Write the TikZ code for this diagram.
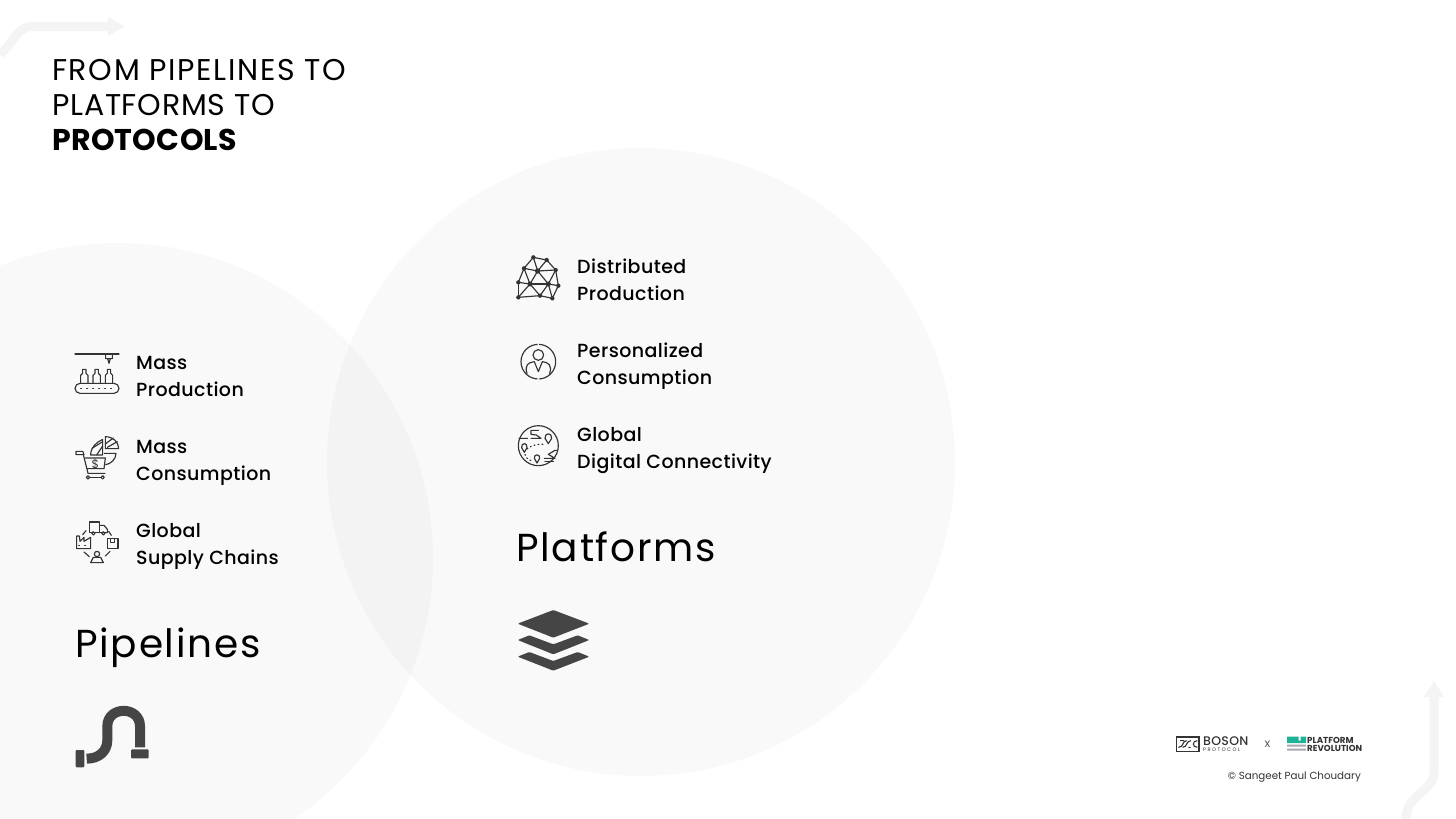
\documentclass[tikz,border=0pt]{standalone}
\usepackage{fontspec}
\setmainfont{Poppins}
\newfontfamily\medfont[LetterSpace=2.2]{Poppins Medium}
\definecolor{ink}{HTML}{333333}
\definecolor{darkfill}{HTML}{454545}
\definecolor{ghost}{HTML}{F4F4F4}
\definecolor{teal1}{HTML}{1DB394}
\definecolor{grey1}{HTML}{A9A9B2}
\newcommand{\ttlfont}[1]{\fontsize{30}{35}\selectfont\addfontfeatures{LetterSpace=#1}}
\tikzset{
  venn/.style={fill=black,fill opacity=0.024,draw=none},
  lbl/.style={anchor=west,align=left,inner sep=0pt,font=\fontsize{19}{26.8}\selectfont\medfont},
  head/.style={anchor=base west,inner sep=0pt,font=\fontsize{39}{44}\selectfont\addfontfeatures{LetterSpace=4.5}},
  ttl/.style={anchor=base west,inner sep=0pt},
  ico/.style={draw=ink,line width=1.15pt,line cap=round,line join=round},
  ghostline/.style={draw=ghost,line width=9pt},
}
\begin{document}
\begin{tikzpicture}[x=1pt,y=-1pt]
\useasboundingbox (0,0) rectangle (1456,819);
\clip (0,0) rectangle (1456,819);
\fill[white] (0,0) rectangle (1456,819);
% circles
\fill[venn] (118,558) circle (315);
\fill[venn] (641,462) circle (314);
% ghost arrows
\draw[ghostline] (0,54) .. controls (12,46) and (16,26.5) .. (32,26.5) -- (109,26.5);
\fill[ghost] (108,17) -- (125,26.5) -- (108,36) -- cycle;
\draw[ghostline] (1434,696) -- (1434,772) .. controls (1434,792) and (1406,794) .. (1406,819);
\fill[ghost] (1424,697) -- (1434,681) -- (1444,697) -- cycle;
% title
\node[ttl,font=\ttlfont{5.5}] (t1) at (52,80.5) {FROM PIPELINES TO};
\node[ttl,font=\ttlfont{2.5}] (t2) at (52,115.5) {PLATFORMS TO};
\node[ttl,font=\ttlfont{1}\bfseries] (t3) at (52,150.5) {PROTOCOLS};
% labels
\node[lbl] (a) at (136,377.8) {\strut Mass\\\strut Production};
\node[lbl] (b) at (136,461.8) {\strut Mass\\\strut Consumption};
\node[lbl] (c) at (136,545.8) {\strut Global\\\strut Supply Chains};
\node[lbl] (d) at (577,281.8) {\strut Distributed\\\strut Production};
\node[lbl] (e) at (577,365.8) {\strut Personalized\\\strut Consumption};
\node[lbl] (f) at (577,449.8) {\strut Global\\\strut Digital Connectivity};
\node[head] (pl) at (75,657.5) {Pipelines};
\node[head] (pf) at (516,561.5) {Platforms};
% mass production icon
\begin{scope}[shift={(60,340)},scale=1/3]
\draw[ico] (45,42) -- (177,42);
\draw[ico] (137,42) -- (137,56) -- (157,56) -- (157,42) (143,56) -- (147,70) -- (151,56);
\foreach \bx in {73,110,147}{
 \draw[ico] (\bx-11,130) -- (\bx-11,106) -- (\bx-5,100) -- (\bx-5,88) -- (\bx+5,88) -- (\bx+5,100) -- (\bx+11,106) -- (\bx+11,130);
}
\draw[ico,rounded corners=5pt] (45,130) rectangle (177,160);
\draw[ico,dash pattern=on 1pt off 5pt] (62,146) -- (162,146);
\end{scope}
% mass consumption icon
\begin{scope}[shift={(60,340)},scale=1/3]
\draw[ico] (92,345) .. controls (92,322) and (108,308) .. (128,298) -- (128,345) -- cycle;
\draw[ico] (96,325) -- (128,305) (110,345) -- (128,318);
\draw[ico] (136,290) -- (136,326) -- (176,326) .. controls (176,305) and (158,290) .. (136,290) -- cycle;
\draw[ico] (136,312) -- (160,294) (142,322) -- (172,305);
\draw[ico] (168,340) .. controls (168,358) and (152,372) .. (137,374) (133,340) -- (168,340);
\draw[ico] (48,334) -- (68,334) -- (72,344) -- (48,344) -- cycle;
\draw[ico] (70,344) -- (84,400) -- (135,400);
\draw[ico] (76,354) -- (136,354) -- (132,386) -- (82,386);
\draw[ico] (84,412) circle (5) (128,412) circle (5);
\draw[ico] (89,412) -- (123,412);
\node[font=\fontsize{12}{12}\selectfont,text=ink,inner sep=0pt] (dollar) at (106,372) {\$};
\end{scope}
% supply chain icon
\begin{scope}[shift={(60,340)},scale=1/3]
\draw[ico] (88,546) rectangle (118,578);
\draw[ico] (118,556) -- (132,556) -- (142,568) -- (142,578) -- (118,578);
\draw[ico] (100,580) circle (5) (130,580) circle (5);
\draw[ico] (50,626) -- (50,588) -- (58,588) -- (60,604) -- (72,592) -- (72,604) -- (92,592) -- (92,626) -- cycle;
\draw[ico,dash pattern=on 1pt off 5pt] (56,616) -- (88,616);
\draw[ico] (142,596) rectangle (174,626) (152,596) -- (152,608) -- (164,608) -- (164,596);
\draw[ico] (92,668) -- (130,668) -- (122,652) -- (100,652) -- cycle;
\draw[ico] (111,642) circle (8);
\draw[ico] (68,584) -- (78,572) (146,574) -- (154,586) (72,636) -- (88,650) (136,648) -- (150,634);
\end{scope}
% distributed production icon
\begin{scope}[shift={(505,245)},scale=1/3]
\foreach \n/\p in {1/{85,37},2/{125,45},3/{57,70},4/{98,78},5/{152,75},6/{40,112},7/{75,117},8/{130,117},9/{160,122},10/{40,157},11/{105,152},12/{142,160}}{
  \coordinate (n\n) at (\p);
}
\foreach \n in {1,...,12}{\fill[ink] (n\n) circle (6.5);}
\fill[ink] (n4) circle (8) (n8) circle (7.5) (n7) circle (7.5);
\foreach \a/\b in {1/2,1/3,1/4,2/4,2/5,3/4,4/5,3/6,3/7,4/7,4/8,5/8,5/9,6/7,7/8,8/9,6/10,7/10,7/11,8/11,8/12,9/12,10/11,11/12}{
  \draw[ico] (n\a) -- (n\b);
}
\end{scope}
% personalized consumption icon
\begin{scope}[shift={(505,245)},scale=1/3]
\draw[ico,line cap=butt,dash pattern=on 26.4pt off 1.6pt on 52.8pt off 1.6pt on 26.4pt] (100,350) circle (52);
\draw[ico] (100,330) circle (16);
\draw[ico] (66,385) .. controls (58,360) and (70,352) .. (88,350) -- (100,380) -- (112,350) .. controls (130,352) and (142,360) .. (134,385);
\end{scope}
% global icon
\begin{scope}[shift={(505,245)},scale=1/3]
\draw[ico] (100,602) circle (60);
\draw[ico] (42,580) -- (68,580) (78,580) -- (108,580) -- (94,570) -- (78,568) -- (78,556) -- (100,556);
\draw[ico] (130,596) -- (120,580) .. controls (118,562) and (142,562) .. (140,580) -- cycle;
\draw[ico] (58,622) -- (50,608) .. controls (48,592) and (68,592) .. (66,608) -- cycle;
\draw[ico] (96,654) -- (88,640) .. controls (86,626) and (106,626) .. (104,640) -- cycle;
\draw[ico,dash pattern=on 1pt off 3pt] (66,612) .. controls (80,600) and (100,596) .. (118,598) (60,628) .. controls (62,640) and (72,646) .. (84,648);
\draw[ico] (118,640) -- (150,640) -- (130,628) -- (150,616) -- (156,616);
\draw[ico] (120,650) -- (146,650);
\end{scope}
% pipe icon
\begin{scope}[shift={(60,600)},scale=1/3]
\fill[darkfill,rounded corners=1pt] (47,450) rectangle (73,502);
\draw[darkfill,line width=10pt] (80,476) .. controls (115,476) and (142,455) .. (142,420) -- (142,379) .. controls (142,317) and (240,317) .. (240,379) -- (240,442);
\fill[darkfill,rounded corners=1pt] (213,448) rectangle (266,475);
\end{scope}
% layers icon
\begin{scope}[shift={(505,600)},scale=1/3]
\fill[darkfill,rounded corners=1pt] (38,71) -- (145,30) -- (253,71) -- (145,113) -- cycle;
\fill[darkfill,rounded corners=1pt] (38,120) -- (73,106) -- (145,133) -- (218,106) -- (253,120) -- (145,163) -- cycle;
\fill[darkfill,rounded corners=1pt] (38,170) -- (73,156) -- (145,183) -- (218,156) -- (253,170) -- (145,212) -- cycle;
\end{scope}
% footer logos
\begin{scope}[shift={(1160,670)},scale=1/3]
\draw[ink,line width=1.1pt] (50,201) rectangle (117,245);
\draw[ink,line width=1.1pt] (55,232) .. controls (72,232) and (66,212) .. (80,212) (93,212) .. controls (78,212) and (82,232) .. (68,232) (112,212) .. controls (96,212) and (96,232) .. (112,232) (60,212) -- (72,212) (85,232) -- (92,232);
\fill[teal1] (381,200) rectangle (416,219) (422,200) rectangle (438,212) (416,212) rectangle (438,219);
\fill[grey1] (381,224) rectangle (438,230) (381,236) rectangle (438,242);
\end{scope}
\node[anchor=west,inner sep=0pt,font=\fontsize{12.5}{13}\selectfont\medfont,text=ink] (boson) at (1203,741) {BOSON};
\node[anchor=west,inner sep=0pt,font=\fontsize{5}{6}\selectfont\addfontfeatures{LetterSpace=30},text=ink] (proto) at (1203,750) {PROTOCOL};
\node[inner sep=0pt,font=\fontsize{12}{12}\selectfont,text=ink!80] (xmark) at (1267.5,744) {x};
\node[anchor=west,inner sep=0pt,font=\fontsize{8.7}{10}\selectfont\bfseries,text=ink] (pr1) at (1307,740) {PLATFORM};
\node[anchor=west,inner sep=0pt,font=\fontsize{8.7}{10}\selectfont\bfseries,text=ink] (pr2) at (1307,748) {REVOLUTION};
\node[anchor=east,inner sep=0pt,font=\fontsize{10.3}{12}\selectfont,text=ink] (copy) at (1361,777) {© Sangeet Paul Choudary};
\end{tikzpicture}
\end{document}
